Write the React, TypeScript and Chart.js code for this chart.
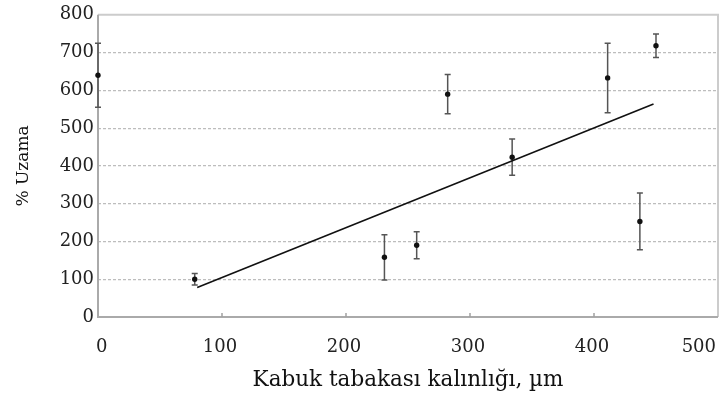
import React, { useEffect, useRef } from "react";
import { Chart, registerables } from "chart.js";

Chart.register(...registerables);

// Data
const thickness = [0, 78, 231, 257, 282, 334, 411, 437, 450];
const elongation = [640, 100, 158, 190, 590, 423, 633, 253, 718];
const errorSize = [85, 15, 60, 36, 52, 48, 92, 75, 31];
const trendX = [80, 448];
const trendY = [78, 564];
const xTickValues = [0, 100, 200, 300, 400, 500];
const yTickValues = [0, 100, 200, 300, 400, 500, 600, 700, 800];
const xTitle = "Kabuk tabakası kalınlığı, µm";
const yTitle = "% Uzama";

const FONT = "'DejaVu Serif', serif";

const decorPlugin = {
  id: "decor",
  beforeDatasetsDraw(chart: any) {
    const { ctx, chartArea, scales } = chart;
    const x = scales.x;
    const y = scales.y;
    ctx.save();
    // plot box
    ctx.lineWidth = 2;
    ctx.strokeStyle = "#cccccc";
    ctx.beginPath();
    ctx.moveTo(chartArea.left, chartArea.top);
    ctx.lineTo(chartArea.right, chartArea.top);
    ctx.lineTo(chartArea.right, chartArea.bottom);
    ctx.stroke();
    ctx.strokeStyle = "#aaaaaa";
    ctx.beginPath();
    ctx.moveTo(chartArea.left, chartArea.top);
    ctx.lineTo(chartArea.left, chartArea.bottom);
    ctx.lineTo(chartArea.right, chartArea.bottom);
    ctx.stroke();
    // small inward tick marks on x axis
    ctx.lineWidth = 1.5;
    ctx.strokeStyle = "#a0a0a0";
    xTickValues.slice(1, -1).forEach((v) => {
      const px = x.getPixelForValue(v);
      ctx.beginPath();
      ctx.moveTo(px, chartArea.bottom);
      ctx.lineTo(px, chartArea.bottom - 4);
      ctx.stroke();
    });
    // error bars
    ctx.lineWidth = 1.5;
    ctx.strokeStyle = "#555";
    thickness.forEach((tx, i) => {
      const px = x.getPixelForValue(tx);
      const top = y.getPixelForValue(elongation[i] + errorSize[i]);
      const bot = y.getPixelForValue(elongation[i] - errorSize[i]);
      ctx.beginPath();
      ctx.moveTo(px, top);
      ctx.lineTo(px, bot);
      ctx.moveTo(px - 3, top);
      ctx.lineTo(px + 3, top);
      ctx.moveTo(px - 3, bot);
      ctx.lineTo(px + 3, bot);
      ctx.stroke();
    });
    ctx.restore();
  },
};

export default function App() {
  const canvasRef = useRef<HTMLCanvasElement | null>(null);

  useEffect(() => {
    if (!canvasRef.current) return;
    const chart = new Chart(canvasRef.current, {
      type: "scatter",
      data: {
        datasets: [
          {
            type: "scatter",
            data: thickness.map((tx, i) => ({ x: tx, y: elongation[i] })),
            backgroundColor: "#111",
            borderWidth: 0,
            pointRadius: 2.7,
            clip: false,
          } as any,
          {
            type: "line",
            data: trendX.map((tx, i) => ({ x: tx, y: trendY[i] })),
            borderColor: "#111",
            borderWidth: 1.6,
            pointRadius: 0,
            fill: false,
            clip: false,
          } as any,
        ],
      },
      options: {
        animation: false,
        responsive: false,
        maintainAspectRatio: false,
        layout: { padding: { top: 14, right: 6, bottom: 0, left: 0 } },
        plugins: { legend: { display: false }, tooltip: { enabled: false } },
        scales: {
          x: {
            type: "linear",
            min: 0,
            max: 500,
            afterBuildTicks: (s: any) => {
              s.ticks = xTickValues.map((v) => ({ value: v }));
            },
            afterFit: (s: any) => {
              s.height = 82;
              s.paddingLeft = 0;
              s.paddingRight = 0;
            },
            grid: { display: false },
            border: { display: false },
            ticks: {
              align: "inner",
              padding: 12,
              labelOffset: -2,
              color: "#222",
              font: { family: FONT, size: 18 },
            },
            title: {
              display: true,
              text: xTitle,
              color: "#111",
              font: { family: FONT, size: 21.5 },
              padding: { top: 0, bottom: 6 },
            },
          } as any,
          y: {
            type: "linear",
            min: 0,
            max: 800,
            afterBuildTicks: (s: any) => {
              s.ticks = yTickValues.map((v) => ({ value: v }));
            },
            afterFit: (s: any) => {
              s.width = 98;
            },
            grid: {
              drawTicks: false,
              lineWidth: 1.2,
              color: (c: any) =>
                c.tick && (c.tick.value === 0 || c.tick.value === 800)
                  ? "rgba(0,0,0,0)"
                  : "#bdbdbd",
            },
            border: { display: false, dash: [3, 2] },
            ticks: {
              padding: 4,
              color: "#222",
              font: { family: FONT, size: 18 },
            },
            title: {
              display: true,
              text: yTitle,
              color: "#111",
              font: { family: FONT, size: 17 },
              padding: { top: 13, bottom: 0 },
            },
          } as any,
        },
      },
      plugins: [decorPlugin],
    });
    return () => chart.destroy();
  }, []);

  return (
    <div style={{ position: "absolute", left: 0, top: 0, width: 724, height: 399, background: "#fff" }}>
      <canvas ref={canvasRef} width={724} height={399} style={{ width: 724, height: 399, display: "block" }} />
    </div>
  );
}
